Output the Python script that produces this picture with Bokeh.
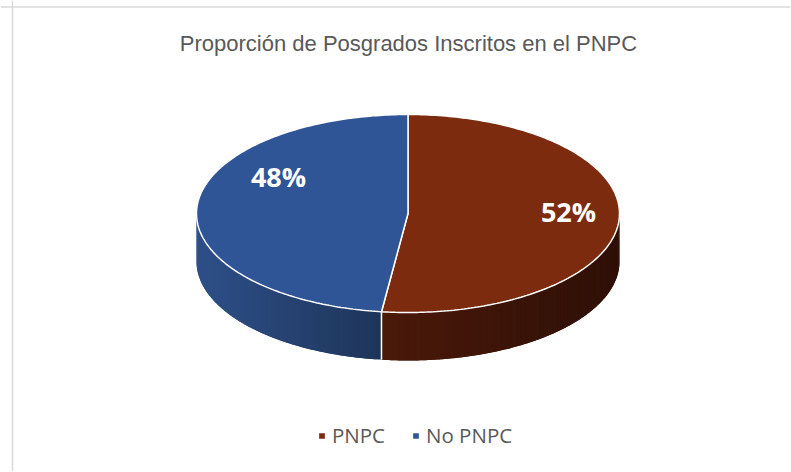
import numpy as np
from bokeh.plotting import figure
from bokeh.models import Range1d, Label, Span, Legend, LegendItem
from bokeh.embed import file_html
from bokeh.resources import INLINE

# ---- data ----
categories = ["PNPC", "No PNPC"]
values = [52, 48]
top_colors = ["#7C2B0E", "#2F5597"]
side_left_colors = ["#4A190A", "#2D4F88"]
side_right_colors = ["#2E0F06", "#1E3459"]
title_text = "Proporción de Posgrados Inscritos en el PNPC"

# ---- layout ----
W, H = 790, 471
cx, cy, a, b, depth = 407.5, 213.0, 211.5, 99.0, 48.0
label_pos = [(568, 211), (278, 176)]

p = figure(width=W, height=H, output_backend="svg", toolbar_location=None,
           x_range=Range1d(0, W), y_range=Range1d(H, 0),
           min_border=0)
p.axis.visible = False
p.grid.visible = False
p.outline_line_color = None
p.background_fill_color = "white"
p.border_fill_color = "white"

def pt(theta_deg, dy=0.0):
    t = np.radians(theta_deg)
    return cx + a * np.sin(t), cy - b * np.cos(t) + dy

def hex2rgb(h):
    h = h.lstrip("#")
    return np.array([int(h[i:i + 2], 16) for i in (0, 2, 4)], dtype=float)

def rgb2hex(c):
    return "#%02x%02x%02x" % tuple(int(round(v)) for v in c)

total = float(sum(values))
starts, ends = [], []
acc = 0.0
for v in values:
    starts.append(acc)
    acc += v / total * 360.0
    ends.append(acc)

# ---- side walls (front half 90..270 deg clockwise from top) ----
sxs, sys_, scols = [], [], []
for i in range(len(values)):
    s = max(starts[i], 90.0)
    e = min(ends[i], 270.0)
    if e <= s:
        continue
    n = max(4, int((e - s) / 1.5))
    edges = np.linspace(s, e, n + 1)
    x_all = [pt(t)[0] for t in edges]
    xmin, xmax = min(x_all), max(x_all)
    cL, cR = hex2rgb(side_left_colors[i]), hex2rgb(side_right_colors[i])
    for k in range(n):
        t_end = edges[min(k + 2, n)]
        ts = np.linspace(edges[k], t_end, 6)
        topx = [pt(t)[0] for t in ts]
        topy = [pt(t)[1] for t in ts]
        botx = topx[::-1]
        boty = [y + depth for y in topy[::-1]]
        sxs.append(topx + botx)
        sys_.append(topy + boty)
        xm = np.mean(topx)
        f = (xm - xmin) / (xmax - xmin) if xmax > xmin else 0
        scols.append(rgb2hex(cL + (cR - cL) * f))

p.patches(sxs, sys_, fill_color=scols, line_color=None)

# split lines on the side
for i in range(len(values)):
    ang = starts[i]
    if 90.0 < ang < 270.0:
        x0, y0 = pt(ang)
        p.segment(x0=[x0], y0=[y0], x1=[x0], y1=[y0 + depth],
                  line_color="white", line_width=1.5)

# ---- top faces ----
top_renderers = []
for i in range(len(values)):
    ts = np.linspace(starts[i], ends[i], 200)
    xs = [cx] + [pt(t)[0] for t in ts]
    ys = [cy] + [pt(t)[1] for t in ts]
    r = p.patch(xs, ys, fill_color=top_colors[i], line_color="white",
                line_width=1.5)
    top_renderers.append(r)

# ---- percentage labels ----
for i, v in enumerate(values):
    lx, ly = label_pos[i]
    p.add_layout(Label(x=lx, y=ly, text=f"{v}%", text_color="white",
                       text_font="Open Sans", text_font_style="bold",
                       text_font_size="27px", text_align="center",
                       text_baseline="middle"))

# ---- title ----
p.add_layout(Label(x=408, y=43, text=title_text, text_color="#595959",
                   text_font="Liberation Sans", text_font_size="22px",
                   text_align="center", text_baseline="middle"))

# ---- border lines ----
p.add_layout(Span(location=12, dimension="height", line_color="#D9D9D9", line_width=1.5))
p.add_layout(Span(location=6.5, dimension="width", line_color="#D9D9D9", line_width=1.5))

# ---- legend ----
legend = Legend(items=[LegendItem(label=c, renderers=[r]) for c, r in zip(categories, top_renderers)],
                orientation="horizontal", location=(317, 22),
                label_text_font="Open Sans", label_text_font_size="20.5px",
                label_text_color="#595959", glyph_width=9, glyph_height=9,
                label_standoff=6, spacing=26, padding=0, margin=0,
                border_line_color=None, background_fill_alpha=0)
p.add_layout(legend)

open("out.html", "w").write(file_html(p, INLINE))
